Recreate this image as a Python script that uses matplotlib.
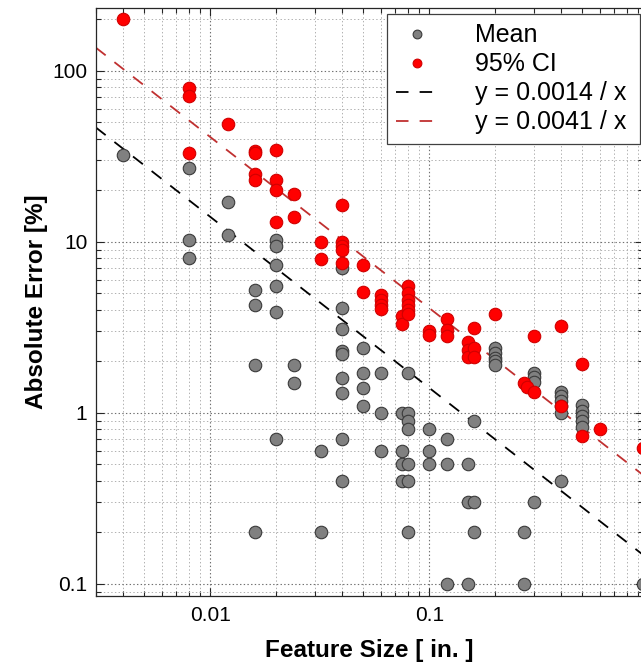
import numpy as np
import matplotlib
matplotlib.use("Agg")
import matplotlib.pyplot as plt
from matplotlib.ticker import LogLocator, NullFormatter

plt.rcParams["font.family"] = ["Liberation Sans", "DejaVu Sans"]
plt.rcParams["lines.scale_dashes"] = False

# ---- data (feature size [in], absolute error [%]) ----
mean_x = [0.004,
          0.008, 0.008, 0.008,
          0.012, 0.012,
          0.016, 0.016, 0.016, 0.016,
          0.02, 0.02, 0.02, 0.02, 0.02, 0.02,
          0.024, 0.024,
          0.032, 0.032,
          0.04, 0.04, 0.04, 0.04, 0.04, 0.04, 0.04, 0.04, 0.04,
          0.05, 0.05, 0.05, 0.05,
          0.06, 0.06, 0.06,
          0.075, 0.075, 0.075, 0.075,
          0.08, 0.08, 0.08, 0.08, 0.08, 0.08, 0.08,
          0.1, 0.1, 0.1,
          0.12, 0.12, 0.12,
          0.15, 0.15, 0.15,
          0.16, 0.16, 0.16,
          0.2, 0.2, 0.2, 0.2, 0.2,
          0.27, 0.27,
          0.3, 0.3, 0.3, 0.3,
          0.4, 0.4, 0.4, 0.4, 0.4, 0.4,
          0.5, 0.5, 0.5, 0.5, 0.5,
          0.95]
mean_y = [32,
          27, 10.3, 8.0,
          17, 11,
          5.2, 4.3, 1.9, 0.2,
          10.2, 9.5, 7.3, 5.5, 3.9, 0.7,
          1.9, 1.5,
          0.6, 0.2,
          7.0, 4.1, 3.1, 2.3, 2.2, 1.6, 1.3, 0.7, 0.4,
          2.4, 1.7, 1.4, 1.1,
          1.7, 1.0, 0.6,
          1.0, 0.6, 0.5, 0.4,
          1.7, 1.0, 0.9, 0.8, 0.5, 0.4, 0.2,
          0.8, 0.6, 0.5,
          0.7, 0.5, 0.1,
          0.5, 0.3, 0.1,
          0.9, 0.3, 0.2,
          2.4, 2.25, 2.1, 2.0, 1.9,
          0.2, 0.1,
          1.72, 1.62, 1.52, 0.3,
          1.33, 1.25, 1.17, 1.1, 1.0, 0.4,
          1.11, 1.03, 0.96, 0.9, 0.83,
          0.1]

ci_x = [0.004,
        0.008, 0.008, 0.008,
        0.012,
        0.016, 0.016, 0.016, 0.016,
        0.02, 0.02, 0.02, 0.02,
        0.024, 0.024,
        0.032, 0.032,
        0.04, 0.04, 0.04, 0.04, 0.04,
        0.05, 0.05,
        0.06, 0.06, 0.06, 0.06,
        0.075, 0.075,
        0.08, 0.08, 0.08, 0.08, 0.08, 0.08,
        0.1, 0.1,
        0.12, 0.12, 0.12,
        0.15, 0.15, 0.15,
        0.16, 0.16, 0.16,
        0.2,
        0.27, 0.28, 0.3, 0.3,
        0.4, 0.4,
        0.5, 0.5,
        0.6,
        0.95]
ci_y = [200,
        79, 71, 33,
        49,
        34, 33, 25, 23,
        34.5, 23, 20, 13,
        19, 14,
        10, 7.9,
        16.5, 10, 9.5, 9.0, 7.5,
        7.3, 5.1,
        4.9, 4.6, 4.3, 4.05,
        3.7, 3.3,
        5.5, 5.0, 4.6, 4.3, 4.0, 3.8,
        3.0, 2.85,
        3.55, 3.05, 2.8,
        2.6, 2.33, 2.12,
        3.13, 2.38, 2.12,
        3.8,
        1.5, 1.42, 1.33, 2.8,
        3.2, 1.1,
        1.93, 0.73,
        0.81,
        0.62]

# fitted curves y = k / x (shown in percent)
k_mean = 0.0014
k_ci = 0.0041
x_lim = (0.003, 0.95)
y_lim = (0.085, 233)

fig = plt.figure(figsize=(6.41, 6.64), dpi=100)
ax = fig.add_axes([95.8 / 641, 68 / 664, (643.4 - 95.8) / 641, 588 / 664])
ax.set_xscale("log")
ax.set_yscale("log")

ax.plot(mean_x, mean_y, "o", ms=9, mfc="#808080", mec="#3a3a3a", mew=0.8,
        label="Mean", zorder=3)
ax.plot(ci_x, ci_y, "o", ms=9, mfc="#ff0000", mec="#d00000", mew=0.8,
        label="95% CI", zorder=3)

xx = np.logspace(np.log10(x_lim[0]), np.log10(x_lim[1]), 50)
ax.plot(xx, 100 * k_mean / xx, color="black", lw=1.3, dashes=(9, 8),
        label="y = 0.0014 / x", zorder=2)
ax.plot(xx, 100 * k_ci / xx, color="#c03030", lw=1.3, dashes=(9, 8),
        label="y = 0.0041 / x", zorder=2)

ax.set_xlim(*x_lim)
ax.set_ylim(*y_lim)
ax.set_xticks([0.01, 0.1])
ax.set_xticklabels(["0.01", "0.1"])
ax.set_yticks([0.1, 1, 10, 100])
ax.set_yticklabels(["0.1", "1", "10", "100"])
ax.xaxis.set_minor_locator(LogLocator(base=10, subs=np.arange(2, 10), numticks=20))
ax.yaxis.set_minor_locator(LogLocator(base=10, subs=np.arange(2, 10), numticks=20))
ax.xaxis.set_minor_formatter(NullFormatter())
ax.yaxis.set_minor_formatter(NullFormatter())

ax.grid(True, which="major", ls=":", color="#707070", lw=0.8)
ax.grid(True, which="minor", ls=":", color="#b0b0b0", lw=0.7)
ax.set_axisbelow(True)

ax.tick_params(which="both", direction="in", top=True, right=True,
               width=0.8, colors="#262626", labelcolor="black")
ax.tick_params(which="major", length=5.8)
ax.tick_params(which="minor", length=3.6)
ax.tick_params(axis="x", labelsize=15, pad=7)
ax.tick_params(axis="y", labelsize=15, pad=6)
for s in ax.spines.values():
    s.set_color("#262626")
    s.set_linewidth(0.9)

ax.set_xlabel("Feature Size [ in. ]", fontsize=17.5, fontweight="bold")
ax.set_ylabel("Absolute Error [%]", fontsize=17.5, fontweight="bold")
ax.xaxis.set_label_coords(0.5, -0.073)
ax.yaxis.set_label_coords(-0.087, 0.5)

leg = ax.legend(loc="upper left", mode="expand",
                bbox_to_anchor=(387 / 641, 1 - 24 / 664, 253 / 641, 10 / 664),
                bbox_transform=fig.transFigure, borderaxespad=0,
                fontsize=18, markerscale=0.7, handlelength=1.65,
                handletextpad=1.5, labelspacing=0.2, borderpad=0.37,
                fancybox=False, framealpha=1, edgecolor="#404040")
leg.get_frame().set_linewidth(0.9)

fig.savefig("out.png", dpi=100)
